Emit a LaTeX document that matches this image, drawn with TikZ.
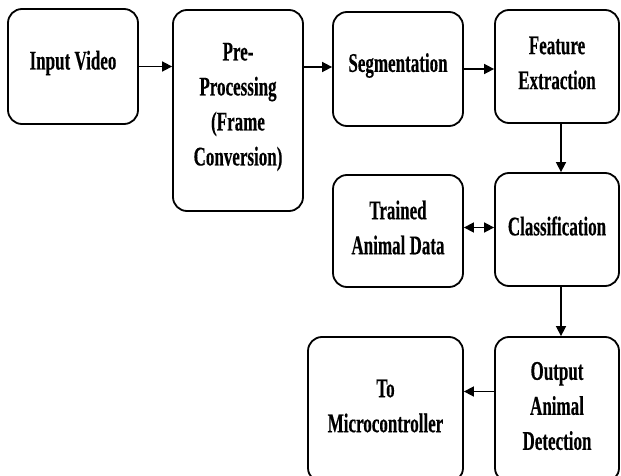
\documentclass[tikz,border=0pt]{standalone}
\usepackage{fontspec}
\setmainfont{Liberation Serif}[FakeStretch=0.63, BoldFeatures={FakeStretch=0.63, FakeBold=0.3}]
\usetikzlibrary{arrows.meta,calc}
\tikzset{
  box/.style={draw=black, line width=1.8pt, rounded corners=14pt, inner sep=0pt},
  lbl/.style={inner sep=0pt, align=center, font=\fontsize{27}{35}\selectfont\bfseries},
  conn/.style={line width=1.6pt, -{Triangle[length=10pt,width=10pt]}},
  conn2/.style={line width=1.6pt, {Triangle[length=10pt,width=10pt]}-{Triangle[length=10pt,width=10pt]}}
}
\newcommand{\mybox}[6]{% name, l, t, r, b, text
  \node[box, minimum width=#4pt-#2pt, minimum height=#5pt-#3pt] (#1) at ({(#2+#4)/2*1pt},{-(#3+#5)/2*1pt}) {};
  \node[lbl] (#1t) at ([yshift=3.5pt]#1.center) {#6};
}
\begin{document}
\begin{tikzpicture}[x=1pt,y=1pt]
\useasboundingbox (0,0) rectangle (621,-476);
\clip (0,0) rectangle (621,-476);
\fill[white] (0,0) rectangle (621,-476);
\mybox{A}{8}{9}{138}{124}{Input Video}
\mybox{B}{173}{10}{303}{211}{Pre-\\Processing\\(Frame\\Conversion)}
\mybox{C}{333}{12}{463}{126}{Segmentation}
\mybox{D}{495}{10}{619}{123}{Feature\\Extraction}
\mybox{E}{495}{173}{619}{286}{Classification}
\mybox{F}{333}{175}{463}{287}{Trained\\Animal Data}
\mybox{G}{495}{337}{619}{482}{Output\\Animal\\Detection}
\mybox{H}{308}{337}{463}{482}{To\\Microcontroller}
\draw[conn] (A.east) -- (A.east -| B.west);
\draw[conn] ([yshift=2pt]C.west -| B.east) -- ([yshift=2pt]C.west);
\draw[conn] (C.east) -- (C.east -| D.west);
\draw[conn] ([xshift=4pt]D.south) -- ([xshift=4pt]E.north);
\draw[conn2] ([yshift=2pt]E.west) -- ([yshift=2pt]E.west -| F.east);
\draw[conn] ([xshift=4pt]E.south) -- ([xshift=4pt]G.north);
\draw[conn] ([yshift=18pt]G.west) -- ([yshift=18pt]G.west -| H.east);
\end{tikzpicture}
\end{document}
